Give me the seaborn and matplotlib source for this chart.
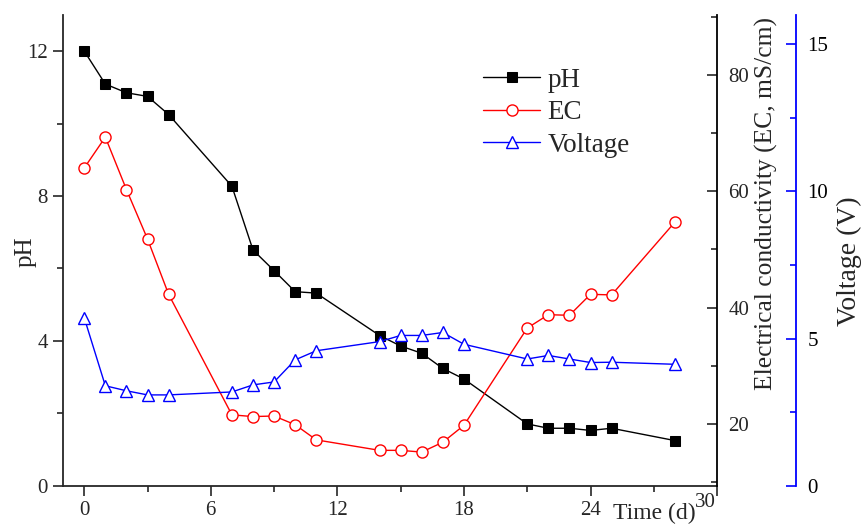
import matplotlib
matplotlib.use("Agg")
import matplotlib.pyplot as plt
import matplotlib.transforms as mtransforms
import seaborn as sns
from matplotlib.ticker import MultipleLocator

days = [0, 1, 2, 3, 4, 7, 8, 9, 10, 11, 14, 15, 16, 17, 18, 21, 22, 23, 24, 25, 28]
ph = [12.0, 11.09, 10.85, 10.75, 10.25, 8.27, 6.51, 5.94, 5.36, 5.32,
      4.15, 3.86, 3.66, 3.24, 2.95, 1.71, 1.59, 1.59, 1.53, 1.59, 1.25]
ec = [64.0, 69.3, 60.3, 51.8, 42.3, 21.6, 21.3, 21.4, 19.9, 17.3,
      15.5, 15.5, 15.2, 16.9, 19.8, 36.5, 38.8, 38.7, 42.3, 42.2, 54.7]
voltage = [5.71, 3.40, 3.23, 3.09, 3.09, 3.19, 3.43, 3.53, 4.28, 4.59,
           4.90, 5.11, 5.11, 5.21, 4.81, 4.31, 4.43, 4.31, 4.19, 4.20, 4.13]

sns.set_theme(style="ticks")
plt.rcParams["font.family"] = ["Liberation Serif", "DejaVu Serif"]

fig = plt.figure(figsize=(8.65, 5.31), dpi=100)
ax = fig.add_axes([0.073, 0.085, 0.756, 0.887])
ax2 = ax.twinx()
ax3 = ax.twinx()
ax3.spines["right"].set_position(("outward", 57))

sns.lineplot(x=days, y=ph, ax=ax, color="black", marker="s", markersize=7.5,
             markeredgecolor="black", markerfacecolor="black", linewidth=1.0,
             label="pH", legend=False)
sns.lineplot(x=days, y=ec, ax=ax2, color="red", marker="o", markersize=8,
             markeredgecolor="red", markerfacecolor="white", markeredgewidth=1.0,
             linewidth=1.0, label="EC", legend=False)
sns.lineplot(x=days, y=voltage, ax=ax3, color="blue", marker="^", markersize=9,
             markeredgecolor="blue", markerfacecolor="white", markeredgewidth=1.0,
             linewidth=1.0, label="Voltage", legend=False)

ax.set_xlim(-1, 30)
ax.set_ylim(0, 13)
ax2.set_ylim(9.4, 90.3)
ax3.set_ylim(0, 16)

ax.xaxis.set_major_locator(MultipleLocator(6))
ax.xaxis.set_minor_locator(MultipleLocator(3))
ax.yaxis.set_major_locator(MultipleLocator(4))
ax.yaxis.set_minor_locator(MultipleLocator(2))
ax2.yaxis.set_major_locator(MultipleLocator(20))
ax2.yaxis.set_minor_locator(MultipleLocator(10))
ax3.yaxis.set_major_locator(MultipleLocator(5))
ax3.yaxis.set_minor_locator(MultipleLocator(2.5))

for a in (ax, ax2, ax3):
    for s in a.spines.values():
        s.set_linewidth(1.3)
    a.spines["top"].set_visible(False)

ax.tick_params(which="major", direction="out", length=7, width=1.2, labelsize=15, pad=4)
ax.tick_params(which="minor", direction="out", length=4.5, width=1.2)
for a in (ax2, ax3):
    a.tick_params(which="major", direction="in", length=7, width=1.2, labelsize=15, pad=8)
    a.tick_params(which="minor", direction="in", length=4.5, width=1.2)

ax.spines["right"].set_visible(False)
ax2.spines["left"].set_visible(False)
ax3.spines["left"].set_visible(False)
ax2.spines["bottom"].set_visible(False)
ax3.spines["bottom"].set_visible(False)
ax2.spines["right"].set_color("black")
ax3.spines["right"].set_color("blue")
ax3.tick_params(axis="y", which="both", color="blue", labelcolor="black")

ax.set_ylabel("pH", fontsize=18)
ax.yaxis.set_label_coords(-0.041, 0.497)
ax2.set_ylabel("Electrical conductivity (EC, mS/cm)", fontsize=18.4)
ax2.yaxis.set_label_coords(1.058, 0.60)
ax3.set_ylabel("Voltage (V)", fontsize=20)
ax3.yaxis.set_label_coords(1.183, 0.476)
ax.set_xlabel("Time (d)", fontsize=17)
ax.xaxis.set_label_coords(0.904, -0.036)
ax.xaxis.label.set_verticalalignment("top")

# the "30" label sits a little higher and to the left in the original
fig.canvas.draw()
for t in ax.xaxis.get_major_ticks():
    if t.label1.get_text() == "30":
        t.label1.set_transform(t.label1.get_transform() +
                               mtransforms.ScaledTranslation(-0.12, 0.08, fig.dpi_scale_trans))

handles = []
labels = []
for a in (ax, ax2, ax3):
    h, l = a.get_legend_handles_labels()
    handles += h
    labels += l
ax3.legend(handles, labels, loc="upper left", bbox_to_anchor=(0.543, 0.898),
           bbox_transform=fig.transFigure, frameon=False, fontsize=19.5,
           borderpad=0, handlelength=2.1, handletextpad=0.28, labelspacing=0.28)

fig.savefig("out.png", dpi=100)
